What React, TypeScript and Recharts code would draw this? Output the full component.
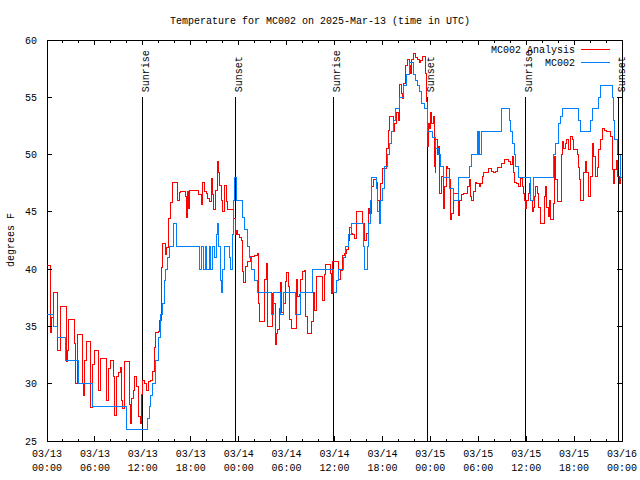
import React from "react";
import { LineChart, Line, XAxis, YAxis, ReferenceLine, ReferenceArea } from "recharts";

// hours since 03/13 00:00 UTC, temperature in F
const analysisReadings: [number, number][] = [
	[0, 40.3], [0.4, 38.8], [0.5, 34.5], [0.6, 35.8], [0.8, 38], [1.35, 32.9], [1.7, 36.7], [2.4, 31.9],
	[2.55, 32.9], [2.7, 35.6], [3.4, 33.5], [3.55, 30], [3.8, 34.3], [4.4, 30], [4.6, 29], [4.7, 32],
	[4.9, 33.7], [5.45, 27.9], [5.7, 31.7], [6.0, 32.9], [6.5, 29.4], [6.7, 32.2], [7.4, 28.5], [7.7, 31.3],
	[8.0, 32], [8.35, 30.6], [8.5, 27.2], [8.7, 30.6], [8.9, 31], [9.2, 31.4], [9.35, 28.5], [9.5, 27.8],
	[9.7, 31.9], [10.3, 28.2], [10.4, 26.5], [10.6, 28.7], [10.8, 29.4], [11.0, 30.6], [11.25, 29.8],
	[11.45, 27.1], [11.65, 26.5], [11.8, 29.1], [12.0, 30.3], [12.25, 30], [12.5, 29.4], [12.65, 30.2],
	[13.0, 30.3], [13.2, 31.1], [13.4, 33.2], [13.6, 34.5], [14.0, 34.6], [14.1, 35.5], [14.3, 40.1],
	[14.5, 42.2], [14.8, 41.3], [14.95, 41.9], [15.25, 44.4], [15.45, 45.8], [15.7, 47.6], [16.35, 46],
	[16.6, 46.7], [16.7, 46.8], [17.3, 46.3], [17.45, 44.5], [17.6, 46.8], [17.7, 45.3], [17.8, 46.9],
	[18.95, 46.5], [19.3, 45.6], [19.5, 47.6], [19.7, 46.8], [19.95, 46.6], [20.15, 46.2], [20.35, 45.9],
	[20.55, 47.9], [20.7, 46.5], [20.9, 45.2], [21.05, 46.9], [21.3, 49.4], [21.5, 48.4], [21.65, 47.3],
	[21.8, 46], [22.0, 45], [22.2, 47.3], [22.45, 45.9], [22.65, 45.2], [23.4, 44.4], [23.6, 43],
	[23.7, 43.4], [23.9, 43], [24.1, 42.8], [24.4, 42.5], [24.5, 39.8], [24.65, 38.8], [24.8, 40.2],
	[25.15, 40.7], [25.5, 41.1], [26.0, 41.2], [26.3, 41.4], [26.5, 37], [26.6, 35.4], [27.25, 39.1],
	[27.45, 40.5], [27.6, 35], [28.2, 37.9], [28.4, 37], [28.6, 33.4], [28.7, 34.4], [28.9, 34.7],
	[29.1, 36.6], [29.2, 38.8], [29.4, 36.2], [29.65, 37], [29.85, 38.9], [30.0, 39.7], [30.2, 38.5],
	[30.4, 35.6], [30.65, 34.8], [31.2, 39.1], [31.4, 37.6], [31.6, 37.8], [31.75, 39.1], [31.95, 39.8],
	[32.25, 39.9], [32.4, 35.9], [32.6, 34.4], [33.15, 35.4], [33.35, 38], [33.55, 36.4], [33.8, 39.4],
	[34.5, 37.3], [34.7, 39.5], [34.9, 40.4], [35.45, 39.6], [35.6, 37.9], [35.8, 40.7], [36.5, 39.1],
	[36.75, 39.9], [37.0, 41.2], [37.3, 41.4], [37.5, 41.7], [37.7, 42.5], [37.9, 43.6], [38.1, 43.1],
	[38.3, 43], [38.55, 42.7], [38.75, 45], [39.5, 44], [39.7, 42.5], [39.95, 43.1], [40.2, 45.3],
	[40.4, 44.9], [40.6, 47.2], [40.85, 47.8], [41.2, 47.6], [41.35, 46], [41.6, 44.9], [41.8, 47.5],
	[41.95, 48.8], [42.5, 50.5], [42.7, 52.1], [42.9, 53.3], [43.35, 52], [43.55, 52.7], [43.75, 53.7],
	[44.0, 53], [44.2, 56.1], [44.4, 55.3], [44.5, 54.9], [44.7, 56.2], [44.9, 57.8], [45.1, 58.3],
	[45.35, 57.8], [45.5, 57.1], [45.7, 58.3], [45.85, 58.8], [46.1, 58.5], [46.35, 58.3], [46.6, 58],
	[46.8, 58.2], [47.0, 58.6], [47.4, 57.1], [47.5, 54.6], [47.65, 50.7], [47.75, 52.7], [47.85, 52.3],
	[48.0, 53.7], [48.15, 52.7], [48.35, 53.3], [48.5, 49], [48.6, 48.4], [48.7, 51.3], [48.85, 50],
	[49.0, 50.7], [49.2, 46.6], [49.4, 48.1], [49.6, 46.6], [49.7, 45.3], [49.8, 47.2], [50.0, 49],
	[50.2, 48.8], [50.35, 47.8], [50.5, 44.3], [50.7, 44.9], [50.85, 46.6], [51.4, 46.6], [51.5, 44.7],
	[51.7, 46], [51.9, 46.5], [52.2, 46.6], [52.6, 47.2], [52.85, 47.8], [53.0, 46.3], [53.2, 46],
	[53.4, 46.8], [53.6, 47.6], [53.8, 47.5], [54.1, 47.2], [54.3, 47.5], [54.5, 48.1], [54.7, 48.4],
	[55.3, 48.8], [55.6, 48.5], [55.9, 48.4], [56.1, 48.5], [56.4, 48.9], [56.9, 49.2], [57.3, 49.6],
	[57.85, 49.4], [58.1, 49.1], [58.3, 49.8], [58.45, 48.4], [58.6, 47.6], [58.85, 47.5], [59.1, 47.2],
	[59.3, 47.9], [59.5, 47.2], [59.7, 46.6], [59.8, 46], [59.9, 45.3], [60.1, 46], [60.3, 46.6],
	[60.45, 47.5], [60.6, 46], [60.8, 45], [60.95, 45.4], [61.1, 46.3], [61.2, 47.2], [61.4, 46.6],
	[61.6, 45.4], [61.8, 44], [62.3, 46.3], [62.45, 47.2], [62.6, 45.4], [62.8, 44.6], [62.95, 46],
	[63.05, 44.3], [63.4, 45.7], [63.5, 49.8], [63.7, 47.8], [63.9, 45.9], [64.4, 50], [64.5, 51.1],
	[64.7, 50.5], [64.9, 51], [65.1, 51.3], [65.3, 50.4], [65.5, 51.6], [65.75, 51.3], [65.95, 50.4],
	[66.4, 50], [66.55, 48.9], [66.7, 47.8], [66.8, 46], [67.2, 48.4], [67.4, 49.4], [67.6, 48.4],
	[67.8, 46.3], [68.1, 48.1], [68.3, 51], [68.45, 49.8], [68.7, 48.1], [68.9, 48.9], [69.1, 50.4],
	[69.3, 51.3], [69.5, 52.3], [69.8, 52.1], [70.0, 52], [70.55, 51.6], [70.75, 50.5], [70.85, 48.7],
	[70.95, 47.5], [71.1, 48.7], [71.3, 49.5], [71.45, 48.1], [71.7, 47.5], [71.85, 48], [72, 48],
];

const observedReadings: [number, number][] = [
	[0, 36], [0.8, 35], [1.3, 34], [2.3, 32], [4.0, 30], [5.7, 28], [10.0, 26], [12.6, 27], [12.8, 28],
	[13.0, 29], [13.2, 30], [13.6, 32], [14.0, 34], [14.2, 36], [14.5, 37], [14.7, 39], [14.9, 40],
	[15.1, 41], [15.4, 42], [15.8, 43], [15.9, 44], [16.2, 42], [19.1, 40], [19.3, 42], [19.6, 40],
	[19.8, 42], [20.0, 40], [20.3, 42], [20.5, 40], [20.7, 42], [21.0, 41], [21.2, 43], [21.35, 44],
	[21.5, 42], [21.7, 39], [21.8, 38], [21.95, 40], [22.2, 42], [22.9, 41], [23.0, 40], [23.2, 43],
	[23.4, 46], [23.5, 48], [23.75, 46], [24.45, 44.5], [24.7, 43.5], [25.05, 42], [25.35, 41],
	[25.65, 40], [26.0, 39], [26.3, 38], [28.1, 36], [28.4, 38], [29.2, 36], [29.65, 38], [31.1, 36],
	[31.8, 38], [33.2, 39], [33.3, 40], [35.9, 38], [36.3, 39], [36.5, 40], [37.1, 41], [37.4, 42],
	[37.7, 43], [38.1, 44], [39.6, 42], [39.8, 40], [40.1, 42], [40.3, 44], [40.45, 46], [40.6, 48],
	[41.2, 47], [41.4, 45], [41.6, 44], [41.75, 46], [42.0, 47], [42.3, 49], [42.6, 50], [42.9, 51],
	[43.1, 52], [43.35, 53], [43.7, 54], [44.1, 55], [44.7, 56], [45.0, 57], [45.35, 58], [45.85, 57],
	[46.1, 56.5], [46.35, 56], [46.6, 55.5], [46.9, 54.5], [47.3, 54], [47.6, 52], [48.3, 51.5],
	[48.7, 50.5], [49.0, 50], [49.3, 49], [49.6, 48], [50.4, 47], [50.85, 46], [51.5, 48], [52.9, 49],
	[53.1, 50], [53.9, 52], [54.0, 50], [54.1, 52], [54.2, 50], [54.35, 52], [56.9, 54], [57.9, 53],
	[58.1, 52], [58.3, 51], [58.5, 50], [58.7, 49], [59.0, 48], [60.5, 46], [60.9, 48], [63.45, 50],
	[63.7, 51], [64.0, 52.7], [64.3, 53.3], [64.55, 54], [66.6, 53], [66.8, 52], [68.0, 53], [68.3, 54],
	[69.0, 55], [69.3, 56], [70.75, 55], [70.9, 53], [71.1, 51.3], [71.4, 50], [71.8, 48], [72, 48],
];

const sunEvents = [12.0, 23.65, 35.92, 47.68, 59.95, 71.6];
const sunNames = ["Sunrise", "Sunset", "Sunrise", "Sunset", "Sunrise", "Sunset"];

const majorHours = [0, 6, 12, 18, 24, 30, 36, 42, 48, 54, 60, 66, 72];
const dayLabels = ["03/13", "03/13", "03/13", "03/13", "03/14", "03/14", "03/14", "03/14", "03/15", "03/15", "03/15", "03/15", "03/16"];
const timeLabels = ["00:00", "06:00", "12:00", "18:00", "00:00", "06:00", "12:00", "18:00", "00:00", "06:00", "12:00", "18:00", "00:00"];
const xTicks = Array.from({ length: 37 }, (_, i) => i * 2);
const yTicks = [25, 30, 35, 40, 45, 50, 55, 60];

const analysisData = analysisReadings.map(([h, t]) => ({ h, t }));
const observedData = observedReadings.map(([h, t]) => ({ h, t }));

const FONT = "'Liberation Mono', 'DejaVu Sans Mono', monospace";
const PLOT_TOP = 40;
const PLOT_RIGHT = 622;

const XTick = (props: any) => {
	const { x, y, payload } = props;
	const idx = majorHours.indexOf(payload.value);
	const len = idx >= 0 ? 5 : 2.5;
	return (
		<g>
			<line x1={x} y1={y} x2={x} y2={y - len} stroke="#000" />
			<line x1={x} y1={PLOT_TOP} x2={x} y2={PLOT_TOP + len} stroke="#000" />
			{idx >= 0 && (
				<text textAnchor="middle" fontFamily={FONT} fontSize={10} fill="#000">
					<tspan x={x} y={y + 16}>{dayLabels[idx]}</tspan>
					<tspan x={x} y={y + 30}>{timeLabels[idx]}</tspan>
				</text>
			)}
		</g>
	);
};

const YTick = (props: any) => {
	const { x, y, payload } = props;
	return (
		<g>
			<line x1={x} y1={y} x2={x + 5} y2={y} stroke="#000" />
			<line x1={PLOT_RIGHT - 5} y1={y} x2={PLOT_RIGHT} y2={y} stroke="#000" />
			<text x={x - 10} y={y + 3.5} textAnchor="end" fontFamily={FONT} fontSize={10} fill="#000">
				{payload.value}
			</text>
		</g>
	);
};

const SunLabel = (props: any) => {
	const { viewBox, text } = props;
	const x = viewBox.x + 6;
	const y = viewBox.y - 5;
	return (
		<text x={x} y={y} transform={`rotate(-90 ${x} ${y})`} fontFamily={FONT} fontSize={10} fill="#000">
			{text}
		</text>
	);
};

const App = () => {
	return (
		<div style={{ position: "absolute", left: 0, top: 0, width: 640, height: 480, background: "#fff" }}>
			<style>{`.recharts-surface{shape-rendering:crispEdges}`}</style>
			<LineChart width={640} height={480} margin={{ top: 40, right: 18, bottom: 0, left: 0 }}>
				<XAxis
					type="number"
					dataKey="h"
					domain={[0, 72]}
					ticks={xTicks}
					interval={0}
					height={39}
					tickSize={0}
					tickMargin={0}
					tickLine={false}
					axisLine={false}
					tick={<XTick />}
				/>
				<YAxis
					domain={[25, 60]}
					ticks={yTicks}
					interval={0}
					width={47}
					tickSize={0}
					tickMargin={0}
					tickLine={false}
					axisLine={false}
					tick={<YTick />}
				/>
				<ReferenceArea x1={0} x2={72} y1={25} y2={60} fill="none" fillOpacity={0} stroke="#000" strokeOpacity={1} />
				{sunEvents.map((h, i) => (
					<ReferenceLine
						key={i}
						segment={[{ x: h, y: 55 }, { x: h, y: 25 }]}
						stroke="#000"
						label={<SunLabel text={sunNames[i]} />}
					/>
				))}
				<Line
					data={analysisData}
					dataKey="t"
					type="stepAfter"
					stroke="#ff0000"
					strokeWidth={1}
					dot={false}
					isAnimationActive={false}
				/>
				<Line
					data={observedData}
					dataKey="t"
					type="stepAfter"
					stroke="#0080ff"
					strokeWidth={1}
					dot={false}
					isAnimationActive={false}
				/>
			</LineChart>
			<svg width={640} height={480} style={{ position: "absolute", left: 0, top: 0, pointerEvents: "none" }}>
				<text x={320} y={24} textAnchor="middle" fontFamily={FONT} fontSize={10} fill="#000">
					Temperature for MC002 on 2025-Mar-13 (time in UTC)
				</text>
				<text x={14} y={240} transform="rotate(-90 14 240)" textAnchor="middle" fontFamily={FONT} fontSize={10} fill="#000">
					degrees F
				</text>
				<text x={575} y={52.5} textAnchor="end" fontFamily={FONT} fontSize={10} fill="#000">MC002 Analysis</text>
				<line x1={581} y1={49.5} x2={610} y2={49.5} stroke="#ff0000" />
				<text x={575} y={65.5} textAnchor="end" fontFamily={FONT} fontSize={10} fill="#000">MC002</text>
				<line x1={581} y1={62.5} x2={610} y2={62.5} stroke="#0080ff" />
			</svg>
		</div>
	);
};

export default App;
